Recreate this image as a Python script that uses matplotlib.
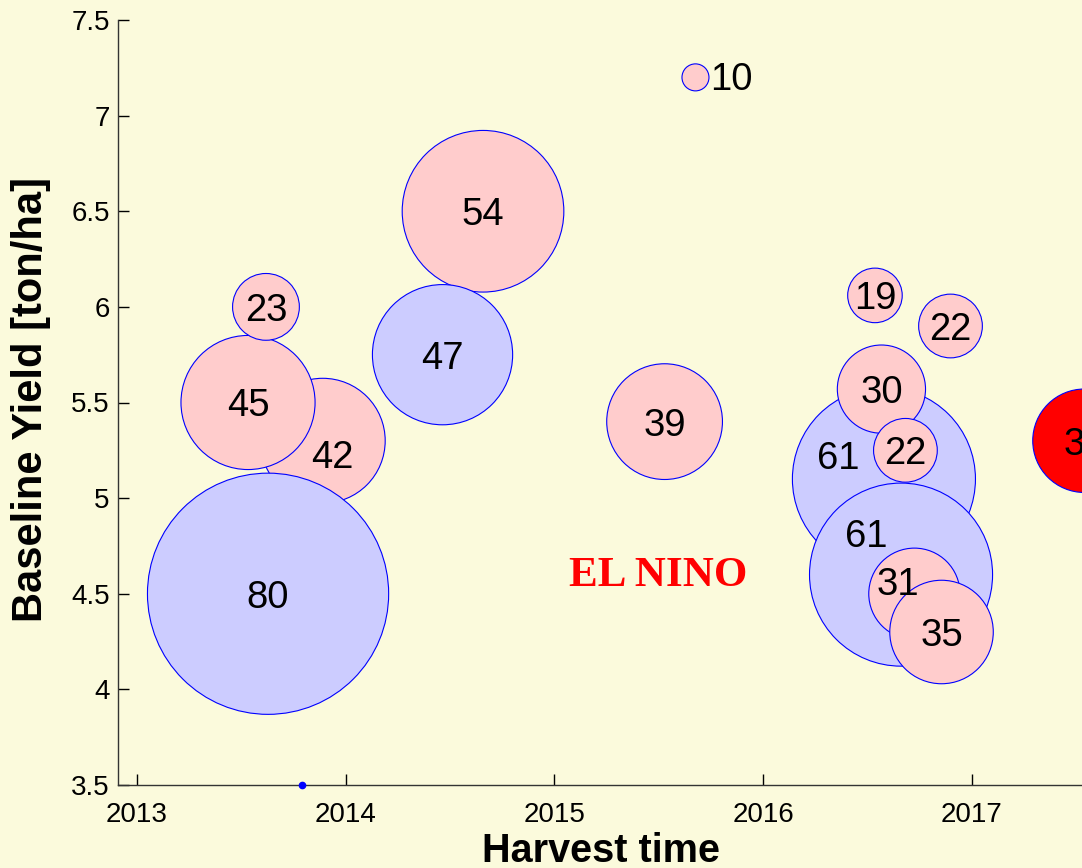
import matplotlib
matplotlib.use("Agg")
import matplotlib.pyplot as plt

# Harvest records, listed in drawing order (later entries sit on top)
harvest_year = [2013.89, 2013.628, 2013.532, 2013.618, 2014.658, 2014.464,
                2015.528, 2015.676, 2016.536, 2016.898, 2016.579, 2016.567,
                2016.661, 2016.682, 2016.725, 2016.855, 2017.54]
baseline_yield = [5.3, 4.5, 5.5, 6.0, 6.5, 5.75,
                  5.4, 7.2, 6.06, 5.9, 5.1, 5.57,
                  4.6, 5.25, 4.5, 4.3, 5.3]
bubble_value = [42, 80, 45, 23, 54, 47,
                39, 10, 19, 22, 61, 30,
                61, 22, 31, 35, 35]
bubble_group = ["pink", "blue", "pink", "pink", "pink", "blue",
                "pink", "pink", "pink", "pink", "blue", "pink",
                "blue", "pink", "pink", "pink", "red"]

# label nudges (pixels) where bubbles crowd each other
label_shift = {0: (10, -13), 7: (36, 1), 10: (-46, 24), 12: (-35, 42), 14: (-17, 13)}

marker_year = [2013.79]
marker_yield = [3.5]

x_ticks = [2013, 2014, 2015, 2016, 2017]
y_ticks = [3.5, 4, 4.5, 5, 5.5, 6, 6.5, 7, 7.5]
y_tick_labels = ["3.5", "4", "4.5", "5", "5.5", "6", "6.5", "7", "7.5"]

palette = {"pink": "#FFCCCC", "blue": "#CCCCFF", "red": "#FF0000"}
bg = "#FBFADC"

W, H, DPI = 1082, 868, 100
fig = plt.figure(figsize=(W / DPI, H / DPI), dpi=DPI, facecolor=bg)

px_per_year = 208.7
x0 = 2012.909
x1 = 2017.8
left_px, bottom_px, top_px = 118, 83, 20
ax = fig.add_axes([left_px / W, bottom_px / H,
                   (x1 - x0) * px_per_year / W, (H - bottom_px - top_px) / H])
ax.set_facecolor(bg)
ax.set_xlim(x0, x1)
ax.set_ylim(3.5, 7.5)

plt.rcParams["font.family"] = ["Liberation Sans", "DejaVu Sans"]

def diameter_pt(v):
    r_px = 1.53 * v - 1.8
    return 2 * r_px * 72 / DPI

sizes = [diameter_pt(v) ** 2 for v in bubble_value]
colors = [palette[g] for g in bubble_group]
ax.scatter(harvest_year, baseline_yield, s=sizes, c=colors,
           edgecolors="#0000FF", linewidths=0.8, zorder=2)

for i, (xv, yv, v) in enumerate(zip(harvest_year, baseline_yield, bubble_value)):
    dx, dy = label_shift.get(i, (0, 0))
    ax.annotate(str(v), (xv, yv), xytext=(dx, dy - 4), textcoords="offset pixels",
                ha="center", va="center", fontsize=27.5,
                family="Liberation Sans", color="black", zorder=5,
                annotation_clip=False)

ax.plot(marker_year, marker_yield, "o", color="#0000FF", markersize=4.5,
        clip_on=False, zorder=6)

ax.text(2015.495, 4.595, "EL NINO", color="#FF0000", fontsize=31,
        fontweight="bold", family="Liberation Serif", ha="center", va="center")

ax.set_xticks(x_ticks)
ax.set_xticklabels([str(t) for t in x_ticks])
ax.set_yticks(y_ticks)
ax.set_yticklabels(y_tick_labels)
ax.tick_params(direction="in", length=8, width=1, labelsize=20, pad=6,
               colors="black")
ax.tick_params(axis="x", pad=12)
for lab in ax.get_xticklabels() + ax.get_yticklabels():
    lab.set_family("Liberation Sans")

for side in ("top", "right"):
    ax.spines[side].set_visible(False)
for side in ("left", "bottom"):
    ax.spines[side].set_color("#333333")
    ax.spines[side].set_linewidth(1.0)

fig.text(601 / W, 1 - 862 / H, "Harvest time", ha="center", va="baseline",
         fontsize=28.5, fontweight="bold", family="Liberation Sans")
fig.text(31 / W, 1 - 400 / H, "Baseline Yield [ton/ha]", ha="center",
         va="center", rotation=90, fontsize=30, fontweight="bold",
         family="Liberation Sans")

fig.savefig("out.png", dpi=DPI, facecolor=bg)
